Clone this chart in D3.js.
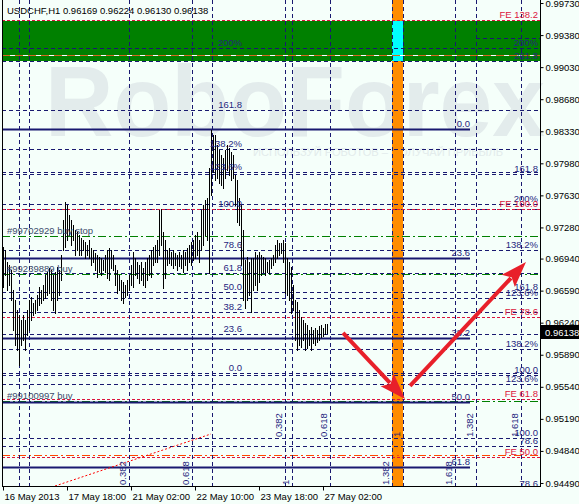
<!DOCTYPE html>
<html><head><meta charset="utf-8">
<script src="https://cdn.jsdelivr.net/npm/d3@7"></script>
<style>
body{margin:0;background:#F5FFFA}
svg{display:block}
text{font-family:"Liberation Sans",Arial,sans-serif}
</style>
</head><body>
<svg id="c" width="579" height="504"></svg>
<script>
// ---------------- DATA ----------------
const symbolTitle = "USDCHF,H1  0.96169 0.96224 0.96130 0.96138";
const lastPrice = 0.96138;
// H1 bars, index 0 = first visible bar
const highs = [
0.9707,0.9703,0.9690,0.9687,0.9682,0.9660,0.9649,0.9638,0.9632,0.9627,
0.9632,0.9627,0.9638,0.9649,0.9652,0.9646,0.9649,0.9654,0.9663,0.9660,
0.9665,0.9676,0.9679,0.9684,0.9682,0.9676,0.9679,0.9685,0.9682,0.9698,
0.9736,0.9756,0.9752,0.9742,0.9736,0.9731,0.9725,0.9723,0.9720,0.9716,
0.9714,0.9712,0.9709,0.9714,0.9706,0.9703,0.9700,0.9698,0.9696,0.9695,
0.9692,0.9698,0.9703,0.9706,0.9703,0.9698,0.9687,0.9682,0.9676,0.9671,
0.9668,0.9665,0.9671,0.9676,0.9687,0.9701,0.9695,0.9690,0.9687,0.9690,
0.9684,0.9690,0.9695,0.9698,0.9703,0.9707,0.9709,0.9714,0.9747,0.9748,
0.9723,0.9714,0.9703,0.9706,0.9701,0.9703,0.9700,0.9698,0.9701,0.9698,
0.9703,0.9701,0.9706,0.9709,0.9712,0.9714,0.9720,0.9723,0.9714,0.9747,
0.9752,0.9758,0.9760,0.9793,0.9834,0.9829,0.9829,0.9818,0.9813,0.9807,
0.9804,0.9813,0.9818,0.9815,0.9810,0.9807,0.9785,0.9780,0.9760,0.9752,
0.9725,0.9692,0.9696,0.9690,0.9695,0.9695,0.9701,0.9698,0.9701,0.9698,
0.9696,0.9695,0.9690,0.9692,0.9695,0.9698,0.9709,0.9714,0.9711,0.9711,
0.9714,0.9711,0.9695,0.9690,0.9685,0.9665,0.9649,0.9647,0.9638,0.9630,
0.9627,0.9624,0.9621,0.9616,0.9619,0.9616,0.9618,0.9616,0.9620,0.9621,
0.9618,0.9623,0.96224];
const lows = [
0.9663,0.9676,0.9660,0.9665,0.9649,0.9616,0.9600,0.9594,0.9578,0.9600,
0.9605,0.9594,0.9611,0.9616,0.9627,0.9632,0.9635,0.9638,0.9643,0.9646,
0.9649,0.9651,0.9654,0.9656,0.9649,0.9638,0.9635,0.9649,0.9654,0.9671,
0.9703,0.9707,0.9714,0.9720,0.9709,0.9714,0.9698,0.9703,0.9698,0.9698,
0.9703,0.9695,0.9698,0.9695,0.9687,0.9690,0.9682,0.9674,0.9679,0.9676,
0.9682,0.9679,0.9673,0.9671,0.9684,0.9682,0.9665,0.9656,0.9660,0.9649,
0.9646,0.9652,0.9654,0.9660,0.9665,0.9663,0.9676,0.9673,0.9667,0.9671,
0.9665,0.9663,0.9671,0.9676,0.9674,0.9687,0.9690,0.9690,0.9698,0.9709,
0.9662,0.9673,0.9687,0.9689,0.9687,0.9684,0.9687,0.9682,0.9686,0.9684,
0.9679,0.9687,0.9682,0.9690,0.9687,0.9692,0.9695,0.9698,0.9690,0.9703,
0.9709,0.9720,0.9714,0.9678,0.9763,0.9789,0.9780,0.9782,0.9777,0.9774,
0.9771,0.9782,0.9791,0.9785,0.9780,0.9782,0.9752,0.9734,0.9731,0.9687,
0.9649,0.9640,0.9649,0.9654,0.9636,0.9660,0.9665,0.9660,0.9668,0.9676,
0.9679,0.9676,0.9679,0.9678,0.9684,0.9687,0.9690,0.9695,0.9698,0.9700,
0.9690,0.9656,0.9654,0.9649,0.9635,0.9638,0.9605,0.9594,0.9600,0.9597,
0.9605,0.9594,0.9596,0.9600,0.9594,0.9602,0.9600,0.9603,0.9605,0.9608,
0.9609,0.9612,0.96130];

const timeTickIdx = [0, 32, 64, 96, 128, 160];
const timeTickLabels = ["16 May 2013","17 May 18:00","21 May 02:00","22 May 10:00","23 May 18:00","27 May 02:00"];
const priceTicks = [0.99730,0.99380,0.99030,0.98680,0.98330,0.97980,0.97630,0.97280,0.96940,0.96590,0.96240,0.95890,0.95540,0.95190,0.94840,0.94490];
const priceTickLabels = ["0.99730","0.99380","0.99030","0.98680","0.98330","0.97980","0.97630","0.97280","0.96940","0.96590","0.96240","0.95890","0.95540","0.95190","0.94840","0.94490"];

// target zone (green band) and time window (orange band)
const targetZone = [0.99534, 0.99097];
const timeWindow = [194.5, 200];

// fibo levels labelled in the middle of the chart
const midLevels = [
 {p:0.99239,t:"200%"},{p:0.98562,t:"161.8"},{p:0.98136,t:"138.2%"},{p:0.97885,t:"123.6%"},
 {p:0.97481,t:"100.0"},{p:0.97034,t:"78.6"},{p:0.96783,t:"61.8"},{p:0.96575,t:"50.0"},
 {p:0.96357,t:"38.2"},{p:0.96117,t:"23.6"},{p:0.95691,t:"0.0"}];
// fibo levels labelled at the right side
const rightLevels = [
 {p:0.99239,t:"200%"},{p:0.99097,t:"261.8"},{p:0.97863,t:"161.8"},{p:0.97536,t:"200%"},
 {p:0.97034,t:"138.2%"},{p:0.96575,t:"161.8"},{p:0.96510,t:"123.6%"},{p:0.95953,t:"138.2%"},
 {p:0.95669,t:"100.0"},{p:0.95571,t:"123.6%"},{p:0.94981,t:"100.0"},{p:0.94894,t:"78.6"},{p:0.94425,t:"78.6"}];
// fibo expansion (red)
const feLevels = [
 {p:0.99545,t:"FE 138.2"},{p:0.97481,t:"FE 100.0"},{p:0.96302,t:"FE 78.6"},{p:0.95407,t:"FE 61.8"},{p:0.94774,t:"FE 50.0"}];
// main retracement (thick lines)
const mainFibo = {p0:0.98355, p100:0.92388, end:233.5};
const mainFiboLevels = [0, 23.6, 38.2, 50.0, 61.8];
const mainFiboLabels = ["0.0","23.6","38.2","50.0","61.8"];
// pending orders
const orders = [
 {p:0.97187,t:"#99702929 buy stop"},{p:0.96772,t:"#99239889 buy"},{p:0.95385,t:"#99100997 buy"}];
const otherLevel = 0.94796;      // orange dash-dot
const prevTarget = 0.99163;      // orange/white dashed
const boxTop = {p:0.99348, from:236.5};
// fibo time zones
const tzA = {start:104.5, end:200};
const tzB = {start:13, end:144.5};
const tzLevels = [0, 0.382, 0.618, 1, 1.382, 1.618];
const tzLabels = ["", "0.382", "0.618", "1", "1.382", "1.618"];
const extraVLine = 8;
// trend line and forecast arrows (bar index, price)
const trend = [[26, 0.94457],[104, 0.95025]];
const arrows = [[[170,0.96128],[201,0.95407]], [[203.5,0.95549],[261.5,0.96903]]];

// ---------------- DRAW ----------------
const svg = d3.select("#c");
const L=2, R=540, T=0, B=486;
const x = d3.scaleLinear().domain([-0.5, 268.5]).range([L, R]);
const y = d3.scaleLinear().domain([0.94457, 0.99763]).range([B, T]);
const NAVY="#191970", RED="#DC143C", GREEN="#008000", LBL="#26267e";
const yy = p => Math.round(y(p)) + 0.5;
const xx = i => Math.round(x(i)) + 0.5;

svg.append("rect").attr("width",579).attr("height",504).attr("fill","#F5FFFA");

// watermark
const wm = svg.append("g").attr("fill","#e3ecec");
wm.append("text").attr("x",45).attr("y",136).attr("font-size",100).attr("font-weight","bold")
  .attr("textLength",500).attr("lengthAdjust","spacingAndGlyphs").text("RoboForex");
wm.append("text").attr("x",253).attr("y",156).attr("font-size",11.5)
  .attr("textLength",250).attr("lengthAdjust","spacingAndGlyphs").text("ИСПОЛЬЗУЙ РОБОТОВ – ПОЛУЧАЙ ПРИБЫЛЬ");

svg.append("defs").append("clipPath").attr("id","clip").append("rect")
  .attr("x",L).attr("y",T).attr("width",R-L).attr("height",B-T);
const g = svg.append("g").attr("clip-path","url(#clip)");
const [dMin,dMax] = x.domain();

// bands
g.append("rect").attr("x",x(dMin)).attr("width",x(dMax)-x(dMin))
  .attr("y",y(targetZone[0])).attr("height",y(targetZone[1])-y(targetZone[0])).attr("fill",GREEN);
g.append("rect").attr("x",x(timeWindow[0])).attr("width",x(timeWindow[1])-x(timeWindow[0]))
  .attr("y",T).attr("height",B-T).attr("fill","#FF8C00");
g.append("rect").attr("x",x(timeWindow[0])).attr("width",x(timeWindow[1])-x(timeWindow[0]))
  .attr("y",y(targetZone[0])).attr("height",y(targetZone[1])-y(targetZone[0])).attr("fill","#00FFFF");

function hline(p, i0, i1, color, dash, w){
  g.append("line").attr("x1",x(i0)).attr("x2",x(i1)).attr("y1",yy(p)).attr("y2",yy(p))
   .attr("stroke",color).attr("stroke-width",w||1).attr("stroke-dasharray",dash||null);
}
function vline(i, color, dash){
  g.append("line").attr("x1",xx(i)).attr("x2",xx(i)).attr("y1",T).attr("y2",B)
   .attr("stroke",color).attr("stroke-width",1).attr("stroke-dasharray",dash||null);
}

// orange/white line
hline(prevTarget, dMin, dMax, "#ffffff", null, 1);
hline(prevTarget, dMin, dMax, "#D2691E", "8,5", 1);

// navy fibo dashed lines
const navyPrices = Array.from(new Set(midLevels.map(d=>d.p).concat(rightLevels.map(d=>d.p))));
navyPrices.forEach(p => hline(p, dMin, dMax, NAVY, "4,3"));
hline(boxTop.p, boxTop.from, dMax, NAVY, "4,3");

// orders (green dash-dot)
orders.forEach(o => hline(o.p, dMin, dMax, GREEN, "8,3,2,3"));
hline(otherLevel, dMin, dMax, "#FF4500", "8,3,2,3");
// FE red dashed
feLevels.forEach(f => hline(f.p, dMin, dMax, RED, "3,2"));
// main fibo thick
mainFiboLevels.forEach(l => hline(mainFibo.p0 + (mainFibo.p100-mainFibo.p0)*l/100, dMin, mainFibo.end, NAVY, null, 2));

// time zones
[tzA, tzB].forEach(tz => tzLevels.forEach(l => vline(tz.start + (tz.end-tz.start)*l, NAVY, "4,3")));
vline(extraVLine, NAVY, "4,3");

// trend line
g.append("line").attr("x1",x(trend[0][0])).attr("y1",y(trend[0][1])).attr("x2",x(trend[1][0])).attr("y2",y(trend[1][1]))
  .attr("stroke","#ff0000").attr("stroke-width",1).attr("stroke-dasharray","2,2");

// bars
g.append("g").selectAll("line").data(highs).join("line")
  .attr("x1",(d,i)=>xx(i)).attr("x2",(d,i)=>xx(i))
  .attr("y1",d=>Math.round(y(d))).attr("y2",(d,i)=>Math.round(y(lows[i]))+1)
  .attr("stroke","#000").attr("stroke-width",1);

// labels
const lab = svg.append("g").attr("font-size","9.5px");
midLevels.forEach(d => lab.append("text").attr("x",242).attr("y",y(d.p)-2).attr("text-anchor","end").attr("fill",LBL).text(d.t));
rightLevels.forEach(d => lab.append("text").attr("x",538).attr("y",y(d.p)-2).attr("text-anchor","end").attr("fill",LBL).text(d.t));
feLevels.forEach(d => lab.append("text").attr("x",538).attr("y",y(d.p)-2).attr("text-anchor","end").attr("fill",RED).text(d.t));
mainFiboLevels.forEach((l,k) => lab.append("text").attr("x",x(mainFibo.end)).attr("y",y(mainFibo.p0 + (mainFibo.p100-mainFibo.p0)*l/100)-2)
  .attr("text-anchor","end").attr("fill",LBL).text(mainFiboLabels[k]));
orders.forEach(o => lab.append("text").attr("x",7).attr("y",y(o.p)-2).attr("fill","#3b4b6b").text(o.t));
function tzText(tz, ybase){
  tzLevels.forEach((l,k) => { if(!tzLabels[k]) return;
    const px = Math.round(x(tz.start + (tz.end-tz.start)*l)) - 3;
    lab.append("text").attr("transform",`translate(${px},${ybase}) rotate(-90)`).attr("fill",LBL).text(tzLabels[k]);
  });
}
tzText(tzA, 437);
tzText(tzB, 485);

// arrows
const ag = svg.append("g").attr("fill","#E8202A").attr("stroke","#E8202A");
arrows.forEach(a => {
  const x1=x(a[0][0]), y1=y(a[0][1]), x2=x(a[1][0]), y2=y(a[1][1]);
  const dx=x2-x1, dy=y2-y1, len=Math.hypot(dx,dy), ux=dx/len, uy=dy/len;
  const hl=26, hw=9;
  const bx=x2-ux*hl, by=y2-uy*hl;
  ag.append("line").attr("x1",x1).attr("y1",y1).attr("x2",bx+ux*4).attr("y2",by+uy*4).attr("stroke-width",4);
  ag.append("path").attr("stroke","none")
    .attr("d",`M${x2},${y2}L${bx-uy*hw},${by+ux*hw}L${bx+ux*5},${by+uy*5}L${bx+uy*hw},${by-ux*hw}Z`);
});

// title
svg.append("text").attr("x",7).attr("y",14).attr("font-size","9.5px").attr("fill","#000").text(symbolTitle);

// axes
svg.append("line").attr("x1",L+0.5).attr("x2",L+0.5).attr("y1",T).attr("y2",B).attr("stroke","#000");
svg.append("line").attr("x1",R+0.5).attr("x2",R+0.5).attr("y1",T).attr("y2",B+1).attr("stroke","#000");
svg.append("line").attr("x1",L).attr("x2",R+1).attr("y1",B+0.5).attr("y2",B+0.5).attr("stroke","#000");

const ya = svg.append("g").attr("transform",`translate(${R+0.5},0)`)
  .call(d3.axisRight(y).tickValues(priceTicks).tickFormat((d,i)=>priceTickLabels[i]).tickSize(3).tickPadding(2));
ya.select(".domain").remove();
ya.selectAll("text").attr("font-family","Liberation Sans, Arial, sans-serif").attr("font-size","9.5px").attr("fill","#000");
ya.selectAll("line").attr("stroke","#000");

const xa = svg.append("g").attr("transform",`translate(0,${B+0.5})`)
  .call(d3.axisBottom(x).tickValues(timeTickIdx).tickFormat((d,i)=>timeTickLabels[i]).tickSize(4).tickPadding(3));
xa.select(".domain").remove();
xa.selectAll("text").attr("font-family","Liberation Sans, Arial, sans-serif").attr("font-size","9.5px")
  .attr("fill","#000").attr("text-anchor","start").attr("dx","1");
xa.selectAll("line").attr("stroke","#000");

// last price box
const ly = y(lastPrice);
svg.append("rect").attr("x",R+1).attr("y",Math.round(ly)-7).attr("width",39).attr("height",14).attr("fill","#000");
svg.append("text").attr("x",R+5).attr("y",ly+3.5).attr("font-size","9.5px").attr("fill","#fff").text(d3.format(".5f")(lastPrice));
</script>
</body></html>
